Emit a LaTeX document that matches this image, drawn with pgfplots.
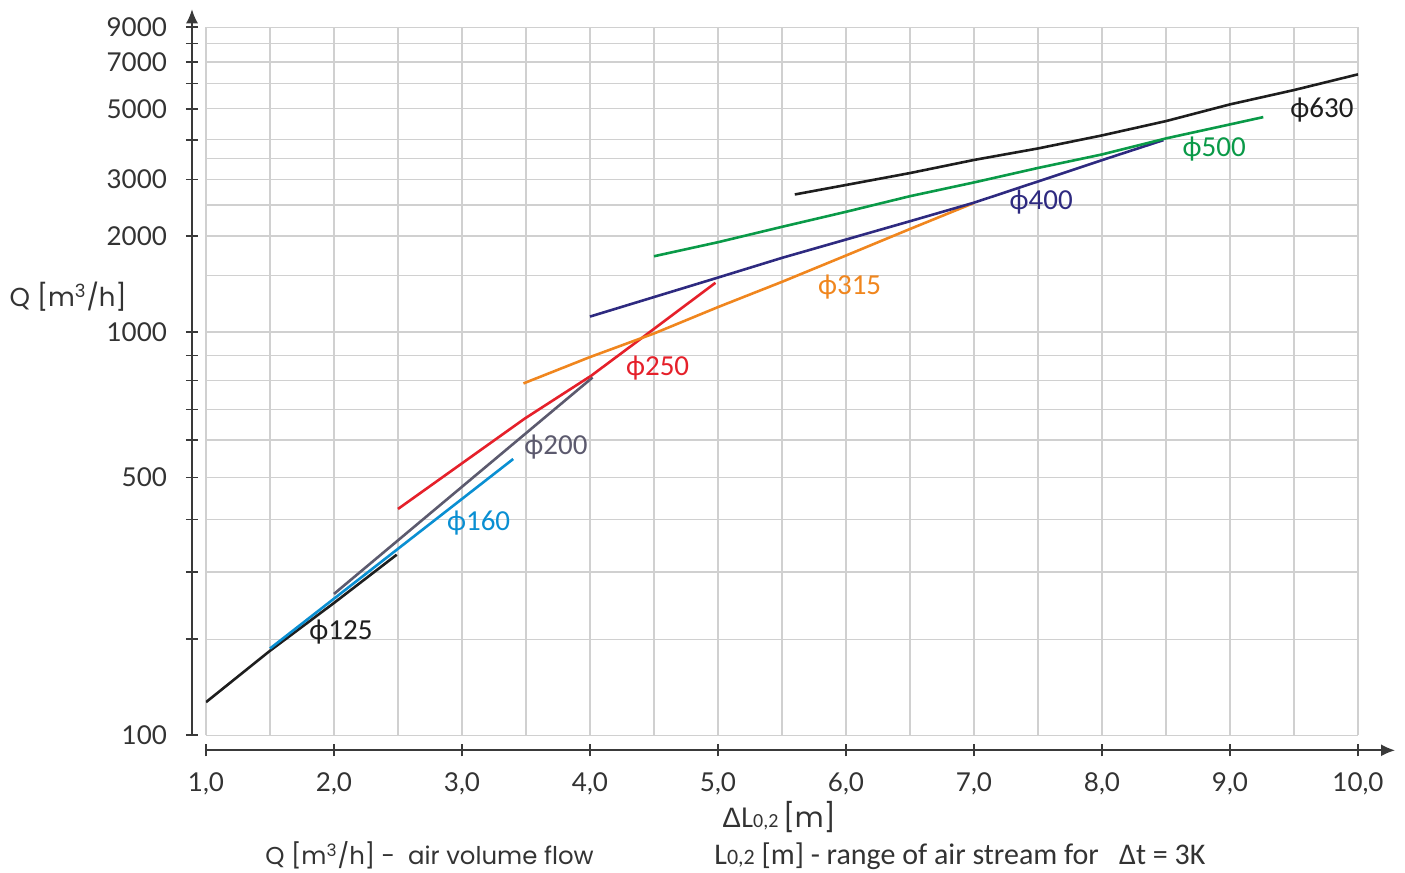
\documentclass[border=0pt]{standalone}
\usepackage{pgfplots}
\pgfplotsset{compat=1.18}
\usetikzlibrary{arrows.meta}
\usepackage{fontspec}
\setmainfont{Poppins}
\newfontfamily\carl{Carlito}
\newfontfamily\libs{Liberation Sans}
\newfontfamily\lato{Lato}
\definecolor{c125}{HTML}{1E1E1E}
\definecolor{c160}{HTML}{0A8FD2}
\definecolor{c200}{HTML}{5C5A6E}
\definecolor{c250}{HTML}{E5202A}
\definecolor{c315}{HTML}{F0861E}
\definecolor{c400}{HTML}{2E2A80}
\definecolor{c500}{HTML}{0A9A48}
\definecolor{c630}{HTML}{1E1E1E}
\definecolor{gridc}{HTML}{D0D0D0}
\definecolor{axc}{HTML}{3A3A3A}
\definecolor{txt}{HTML}{333333}
\begin{document}
\begin{tikzpicture}
\begin{scope}[x=0.5pt,y=-0.5pt,shift={(-103pt,367.65pt)}]
\useasboundingbox (0,0) rectangle (1405,873);
\end{scope}
\begin{axis}[
  at={(0,0)}, anchor=south west, scale only axis,
  width=576pt, height=354pt,
  xmin=1, xmax=10, ymin=100, ymax=9000,
  y coord trafo/.code={%
    \pgfmathparse{ln(#1)}\let\qL\pgfmathresult
    \pgfmathparse{138.50*max(0,min(\qL,5.298317)-4.605170)+165.24*max(0,min(\qL,5.703782)-5.298317)+182.84*max(0,min(\qL,5.991465)-5.703782)+188.22*max(0,min(\qL,6.214608)-5.991465)+205.13*max(0,min(\qL,6.396930)-6.214608)+196.56*max(0,min(\qL,6.551080)-6.396930)+217.18*max(0,min(\qL,6.684612)-6.551080)+212.25*max(0,min(\qL,6.802395)-6.684612)+224.94*max(0,min(\qL,6.907755)-6.802395)+138.5*max(0,\qL-6.907755)}%
  },
  axis lines=left,
  axis x line shift=7.5pt,
  axis y line shift=7pt,
  axis line style={draw=axc, line width=0.8pt},
  x axis line style={-{Latex[length=7pt,width=6pt]}, shorten >=-18.5pt},
  y axis line style={-{Latex[length=7pt,width=6pt]}, shorten >=-9pt},
  xtick={1,2,3,4,5,6,7,8,9,10},
  xticklabels={{1,0},{2,0},{3,0},{4,0},{5,0},{6,0},{7,0},{8,0},{9,0},{10,0}},
  minor x tick num=1,
  ytick={100,200,300,400,500,600,700,800,900,1000,2000,3000,4000,5000,6000,7000,8000,9000},
  yticklabels={100,,,,500,,,,,1000,2000,3000,,5000,,7000,,9000},
  extra y ticks={1500,2500,3500},
  extra y tick labels={},
  extra y tick style={major tick length=0pt, grid=major},
  xmajorgrids, xminorgrids, ymajorgrids,
  grid style={gridc, line width=0.7pt},
  major grid style={gridc, line width=0.7pt},
  minor grid style={gridc, line width=0.7pt},
  major tick length=6pt, minor tick length=0pt,
  tick align=center,
  tick style={axc, line width=0.8pt},
  ticklabel style={font=\lato\fontsize{13}{15}\selectfont, text=txt},
  xticklabel style={yshift=-4.5pt},
  yticklabel style={xshift=-6pt},
  every axis plot/.append style={line width=1.3pt},
]
\addplot[c125] coordinates {(1.0,127) (1.5,184) (2.0,249) (2.49,330)};
\addplot[c160] coordinates {(1.5,187) (3.4,547)};
\addplot[c200] coordinates {(2.0,263) (4.02,812)};
\addplot[c250] coordinates {(2.5,423) (3.49,669) (4.01,819) (4.37,959) (4.98,1425)};
\addplot[c315] coordinates {(3.48,790) (4.0,894) (4.5,993) (5.0,1196) (5.5,1435) (6.0,1735) (6.5,2101) (7.0,2535)};
\addplot[c400] coordinates {(4.0,1117) (5.0,1480) (5.5,1706) (6.0,1947) (6.5,2222) (7.0,2540) (7.5,2960) (8.0,3452) (8.48,3990)};
\addplot[c500] coordinates {(4.5,1726) (5.0,1910) (5.5,2134) (6.0,2378) (6.5,2662) (7.0,2939) (7.5,3263) (8.0,3597) (8.5,4038) (9.0,4467) (9.26,4709)};
\addplot[c630] coordinates {(5.6,2695) (6.0,2886) (6.5,3145) (7.0,3457) (7.5,3756) (8.0,4126) (8.5,4575) (9.0,5161) (9.5,5723) (10.0,6410)};
\end{axis}
\begin{scope}[x=0.5pt,y=-0.5pt,shift={(-103pt,367.65pt)}]
\tikzset{lbl/.style={anchor=base west, inner sep=0pt, font=\carl\fontsize{14.5}{16}\selectfont}}
\node[lbl, text=c125] at (309,639.3) {ϕ125};
\node[lbl, text=c160] at (446.7,530.7) {ϕ160};
\node[lbl, text=c200] at (524,455) {ϕ200};
\node[lbl, text=c250] at (625.7,375.3) {ϕ250};
\node[lbl, text=c315] at (817.7,295) {ϕ315};
\node[lbl, text=c400] at (1009.3,210) {ϕ400};
\node[lbl, text=c500] at (1182.3,156.7) {ϕ500};
\node[lbl, text=c630] at (1290,117.3) {ϕ630};
\node[anchor=base west, inner sep=0pt, text=txt, font=\fontsize{13}{15}\selectfont] at (9.3,306.7) {Q [m\textsuperscript{3}/h]};
\node[anchor=base west, inner sep=0pt, text=txt, font=\fontsize{14}{16}\selectfont] at (722,828) {{\libs Δ}L{\carl\fontsize{10}{12}\selectfont 0,2}\,[m]};
\node[anchor=base west, inner sep=0pt, text=txt, font=\fontsize{12.2}{14}\selectfont] at (265,865) {Q [m\textsuperscript{3}/h] -\ \ air volume flow};
\node[anchor=base west, inner sep=0pt, text=txt, font=\carl\fontsize{15}{17}\selectfont] at (714,865) {L{\fontsize{11}{13}\selectfont 0,2} [m] - range of air stream for\ \ \ Δt = 3K};
\end{scope}
\end{tikzpicture}
\end{document}
